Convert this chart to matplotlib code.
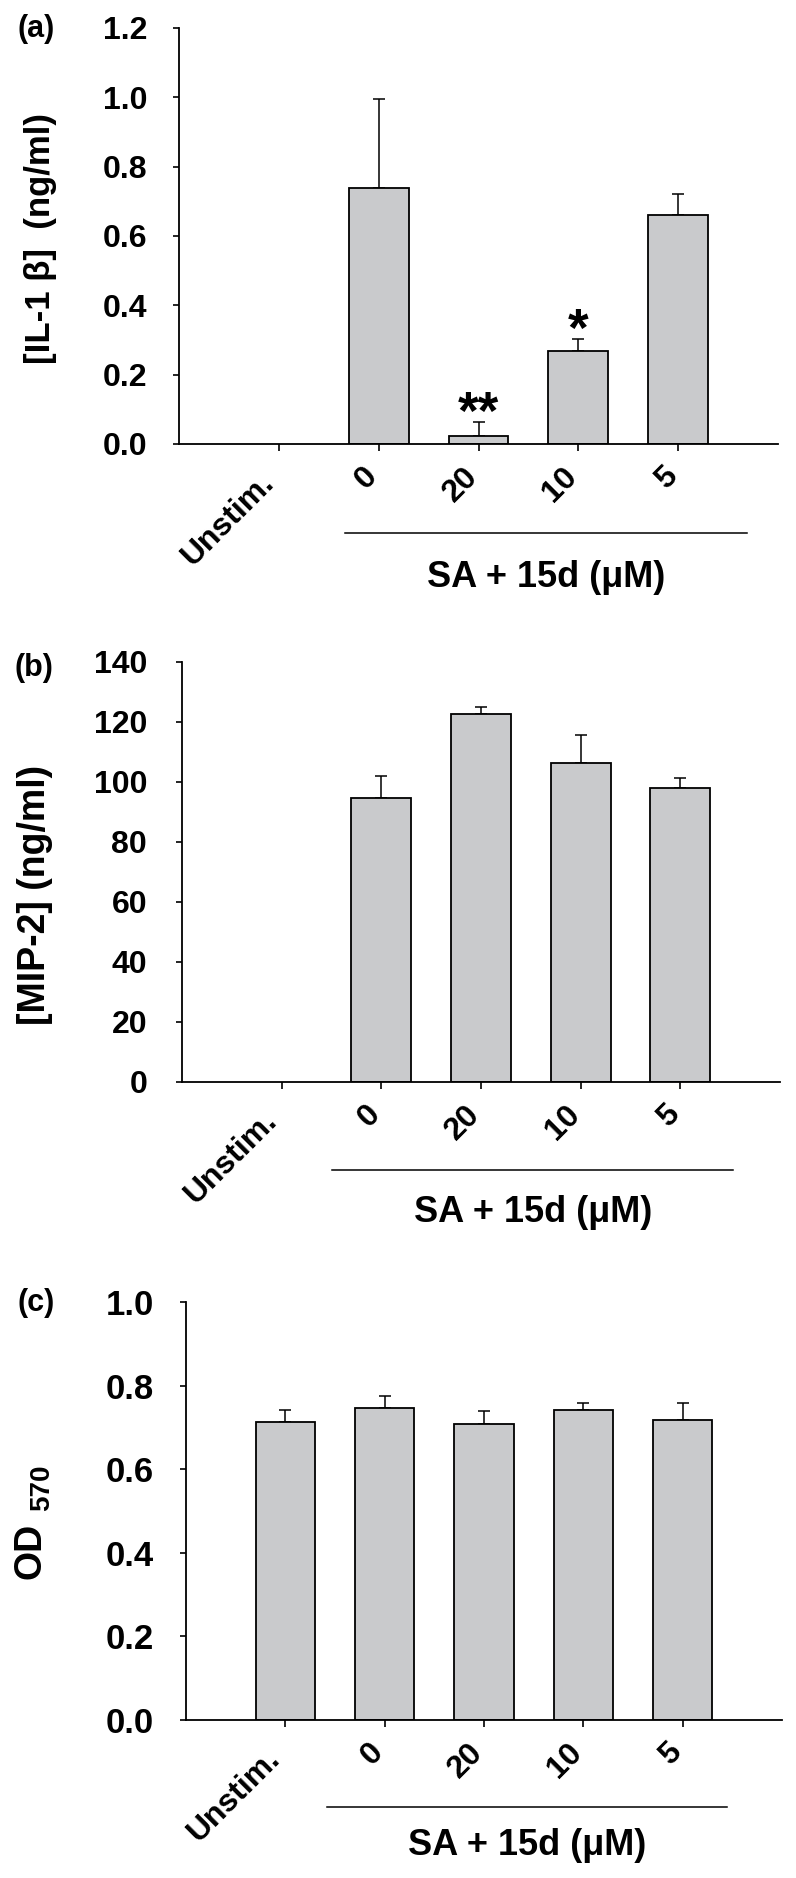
import numpy as np
import matplotlib
matplotlib.use('Agg')
import matplotlib.pyplot as plt
import matplotlib.transforms as mtransforms

plt.rcParams['font.family'] = ['Liberation Sans', 'DejaVu Sans']
plt.rcParams['font.weight'] = 'bold'

# ── data ───────────────────────────────────────────────────────────────────
categories = ['Unstim.', '0', '20', '10', '5']

il1b_mean = [None, 0.739, 0.024, 0.269, 0.660]
il1b_err  = [None, 0.256, 0.040, 0.033, 0.061]
il1b_sig  = ['', '', '**', '*', '']

mip2_mean = [None, 94.7, 122.5, 106.4, 98.1]
mip2_err  = [None, 7.3, 2.6, 9.1, 3.1]

od_mean = [0.712, 0.746, 0.709, 0.742, 0.718]
od_err  = [0.030, 0.028, 0.031, 0.017, 0.041]

BAR_COLOR = '#c9cacc'
W, H = 796, 1878


def px(x, y):
    # figure pixel (from top-left) -> figure fraction
    return x / W, 1 - y / H


def draw_panel(fig, ax, means, errs, yticks, fmt, ylabel, ylabel_fs,
               bracket, label_xy, tick_fs, ypad):
    x = np.arange(1, len(categories) + 1)
    idx = [i for i, m in enumerate(means) if m is not None]
    xs = x[idx]
    ys = np.array([means[i] for i in idx])
    es = np.array([errs[i] for i in idx])

    ax.bar(xs, ys, width=0.6, color=BAR_COLOR, edgecolor='black',
           linewidth=1.3, zorder=2)
    ax.errorbar(xs, ys, yerr=[np.zeros_like(es), es], fmt='none',
                ecolor='black', elinewidth=1.1, capsize=4.5, capthick=1.1,
                zorder=1)

    ax.set_xlim(0, 6)
    ax.set_ylim(yticks[0], yticks[-1])
    ax.set_yticks(yticks)
    ax.set_yticklabels([fmt.format(v) for v in yticks])
    ax.set_xticks(x)
    ax.set_xticklabels(categories, rotation=45, ha='right',
                       rotation_mode='anchor', va='center')

    for s in ['top', 'right']:
        ax.spines[s].set_visible(False)
    for s in ['left', 'bottom']:
        ax.spines[s].set_linewidth(1.3)
    ax.tick_params(axis='y', direction='out', length=4, width=1.2,
                   pad=ypad, labelsize=tick_fs)
    ax.tick_params(axis='x', direction='out', length=5, width=1.2,
                   pad=15, labelsize=23)

    # nudge rotated labels a little left (the long one also down)
    for lab in ax.get_xticklabels():
        dx, dy = (-7, -5) if lab.get_text() == 'Unstim.' else (-4, 0)
        off = mtransforms.ScaledTranslation(dx / 72, dy / 72,
                                            fig.dpi_scale_trans)
        lab.set_transform(lab.get_transform() + off)

    if ylabel:
        ax.set_ylabel(ylabel, fontsize=ylabel_fs, fontweight='bold')
        ax.yaxis.set_label_coords(*label_xy)

    # bracket under the treated groups
    x0, x1, yb, yt = bracket
    trans = mtransforms.blended_transform_factory(ax.transData, ax.transAxes)
    ax.plot([x0, x1], [yb, yb], color='black', lw=1.1, transform=trans,
            clip_on=False)
    ax.text((x0 + x1) / 2, yt, 'SA + 15d (μM)', transform=trans,
            ha='center', va='center', fontsize=26, fontweight='bold')
    return xs, ys, es


fig = plt.figure(figsize=(W / 100, H / 100), dpi=100)
ax_a = fig.add_axes([0.2249, 0.7636, 0.7525, 0.2215])
ax_b = fig.add_axes([0.2286, 0.4239, 0.7513, 0.2236])
ax_c = fig.add_axes([0.2337, 0.0841, 0.7487, 0.2226])

xs, ys, es = draw_panel(fig, ax_a, il1b_mean, il1b_err,
                        [0.0, 0.2, 0.4, 0.6, 0.8, 1.0, 1.2], '{:.1f}',
                        '[IL-1 β]  (ng/ml)', 25,
                        (1.66, 5.69, -0.214, -0.322), (-0.204, 0.493),
                        23, 19)
for xi, yi, ei, lab in zip(xs, ys, es, [il1b_sig[i] for i in range(1, 5)]):
    if lab:
        ax_a.annotate(lab, (xi, yi + ei), xytext=(0, -5),
                      textcoords='offset points', ha='center',
                      va='baseline', fontsize=38, fontweight='bold')

draw_panel(fig, ax_b, mip2_mean, mip2_err,
           [0, 20, 40, 60, 80, 100, 120, 140], '{:d}',
           '[MIP-2] (ng/ml)', 27,
           (1.51, 5.53, -0.21, -0.31), (-0.216, 0.445), 23, 21)

draw_panel(fig, ax_c, od_mean, od_err,
           [0.0, 0.2, 0.4, 0.6, 0.8, 1.0], '{:.1f}',
           None, 0, (1.42, 5.45, -0.208, -0.301), None, 25, 19)

# "OD 570" label, with the number set smaller and lower
fig.text(*px(30, 1551), 'OD', rotation=90, ha='center', va='center',
         fontsize=27, fontweight='bold')
fig.text(*px(42, 1488), '570', rotation=90, ha='center', va='center',
         fontsize=20, fontweight='bold')

fig.text(*px(36, 29), '(a)', ha='center', va='center',
         fontsize=22, fontweight='bold')
fig.text(*px(34, 668), '(b)', ha='center', va='center',
         fontsize=22, fontweight='bold')
fig.text(*px(36, 1303), '(c)', ha='center', va='center',
         fontsize=22, fontweight='bold')

fig.savefig('out.png', dpi=100)
